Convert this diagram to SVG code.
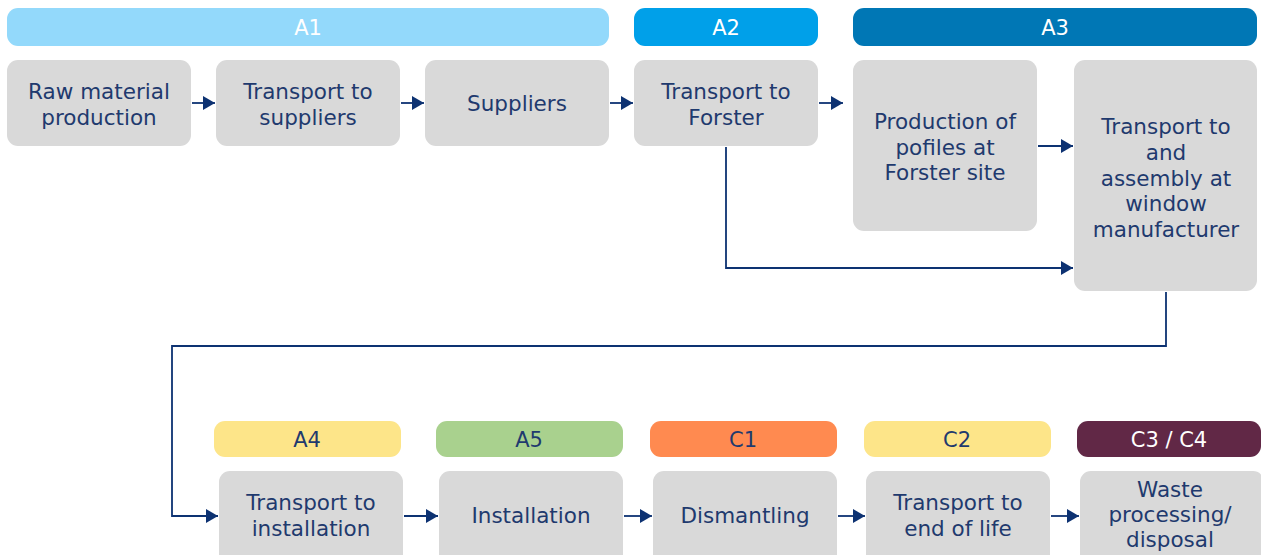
<svg xmlns="http://www.w3.org/2000/svg" width="1261" height="555" viewBox="0 0 1261 555">
<defs>
<style>
.box{fill:#d9d9d9}
.t{font-family:"DejaVu Sans",Verdana,sans-serif;font-size:21.5px;fill:#1f3a6e;text-anchor:middle}
.h{font-family:"DejaVu Sans",Verdana,sans-serif;font-size:21px;text-anchor:middle}
.c{fill:none;stroke:#0d3272;stroke-width:1.8}
</style>
<marker id="ar" viewBox="0 0 12 14" refX="12" refY="7" markerWidth="12" markerHeight="14" markerUnits="userSpaceOnUse" orient="auto">
<path d="M0,0 L12,7 L0,14 z" fill="#0d3272"/>
</marker>
</defs>
<rect width="1261" height="555" fill="#ffffff"/>
<g id="headers">
<g id="hA1"><rect x="7" y="8" width="602" height="38" rx="11" fill="#93d9fb"/><text class="h" x="308" y="35" fill="#ffffff">A1</text></g>
<g id="hA2"><rect x="634" y="8" width="184" height="38" rx="11" fill="#00a0e9"/><text class="h" x="726" y="35" fill="#ffffff">A2</text></g>
<g id="hA3"><rect x="853" y="8" width="404" height="38" rx="11" fill="#0077b5"/><text class="h" x="1055" y="35" fill="#ffffff">A3</text></g>
<g id="hA4"><rect x="214" y="421" width="187" height="36" rx="11" fill="#fde589"/><text class="h" x="307" y="447" fill="#1f3a6e">A4</text></g>
<g id="hA5"><rect x="436" y="421" width="187" height="36" rx="11" fill="#a9d18e"/><text class="h" x="529" y="447" fill="#1f3a6e">A5</text></g>
<g id="hC1"><rect x="650" y="421" width="187" height="36" rx="11" fill="#ff8a50"/><text class="h" x="743" y="447" fill="#1f3a6e">C1</text></g>
<g id="hC2"><rect x="864" y="421" width="187" height="36" rx="11" fill="#fde589"/><text class="h" x="957" y="447" fill="#1f3a6e">C2</text></g>
<g id="hC34"><rect x="1077" y="421" width="184" height="36" rx="11" fill="#612846"/><text class="h" x="1169" y="447" fill="#ffffff">C3 / C4</text></g>
</g>
<g id="connectors">
<line class="c" x1="192" y1="103" x2="215" y2="103" marker-end="url(#ar)"/>
<line class="c" x1="401" y1="103" x2="424" y2="103" marker-end="url(#ar)"/>
<line class="c" x1="610" y1="103" x2="633" y2="103" marker-end="url(#ar)"/>
<line class="c" x1="819" y1="103" x2="843" y2="103" marker-end="url(#ar)"/>
<line class="c" x1="1038" y1="146" x2="1073" y2="146" marker-end="url(#ar)"/>
<polyline class="c" points="726,147 726,268 1073,268" marker-end="url(#ar)"/>
<polyline class="c" points="1166,292 1166,346 172,346 172,516 218,516" marker-end="url(#ar)"/>
<line class="c" x1="404" y1="516" x2="438" y2="516" marker-end="url(#ar)"/>
<line class="c" x1="624" y1="516" x2="652" y2="516" marker-end="url(#ar)"/>
<line class="c" x1="838" y1="516" x2="865" y2="516" marker-end="url(#ar)"/>
<line class="c" x1="1051" y1="516" x2="1079" y2="516" marker-end="url(#ar)"/>
</g>
<g id="n1"><rect class="box" x="7" y="60" width="184" height="86" rx="11"/><text class="t" x="99" y="99">Raw material</text><text class="t" x="99" y="125">production</text></g>
<g id="n2"><rect class="box" x="216" y="60" width="184" height="86" rx="11"/><text class="t" x="308" y="99">Transport to</text><text class="t" x="308" y="125">suppliers</text></g>
<g id="n3"><rect class="box" x="425" y="60" width="184" height="86" rx="11"/><text class="t" x="517" y="111">Suppliers</text></g>
<g id="n4"><rect class="box" x="634" y="60" width="184" height="86" rx="11"/><text class="t" x="726" y="99">Transport to</text><text class="t" x="726" y="125">Forster</text></g>
<g id="n5"><rect class="box" x="853" y="60" width="184" height="171" rx="11"/><text class="t" x="945" y="129">Production of</text><text class="t" x="945" y="155">pofiles at</text><text class="t" x="945" y="180">Forster site</text></g>
<g id="n6"><rect class="box" x="1074" y="60" width="183" height="231" rx="11"/><text class="t" x="1166" y="134">Transport to</text><text class="t" x="1166" y="160">and</text><text class="t" x="1166" y="186">assembly at</text><text class="t" x="1166" y="211">window</text><text class="t" x="1166" y="237">manufacturer</text></g>
<g id="n7"><rect class="box" x="219" y="471" width="184" height="100" rx="11"/><text class="t" x="311" y="510">Transport to</text><text class="t" x="311" y="536">installation</text></g>
<g id="n8"><rect class="box" x="439" y="471" width="184" height="100" rx="11"/><text class="t" x="531" y="523">Installation</text></g>
<g id="n9"><rect class="box" x="653" y="471" width="184" height="100" rx="11"/><text class="t" x="745" y="523">Dismantling</text></g>
<g id="n10"><rect class="box" x="866" y="471" width="184" height="100" rx="11"/><text class="t" x="958" y="510">Transport to</text><text class="t" x="958" y="536">end of life</text></g>
<g id="n11"><rect class="box" x="1080" y="471" width="184" height="100" rx="11"/><text class="t" x="1170" y="497">Waste</text><text class="t" x="1170" y="522">processing/</text><text class="t" x="1170" y="547">disposal</text></g>
</svg>
